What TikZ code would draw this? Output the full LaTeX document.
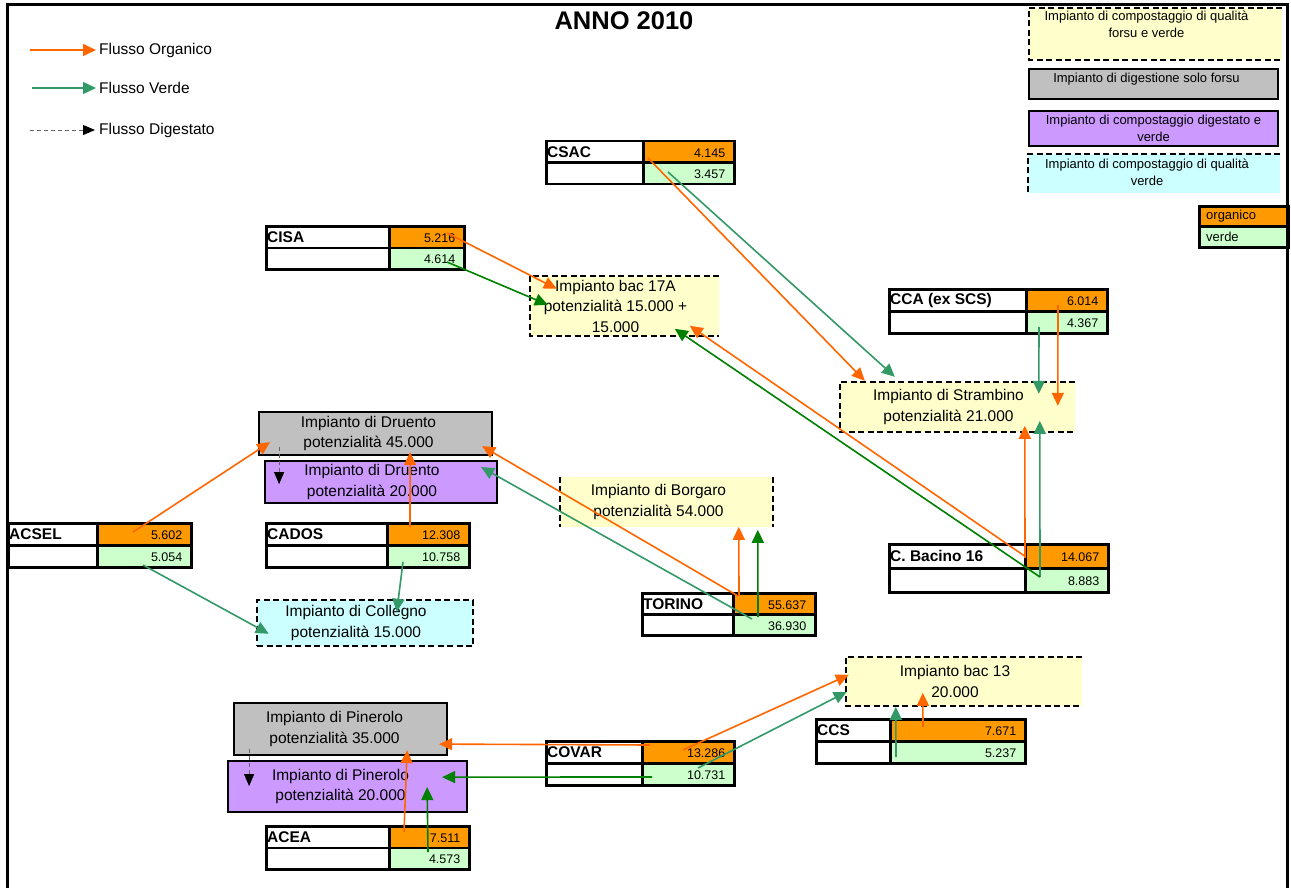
\documentclass[tikz,border=0pt]{standalone}
\usepackage{fontspec}
\setmainfont{Liberation Sans}
\usetikzlibrary{arrows.meta,calc}
\definecolor{orline}{HTML}{FF6600}
\definecolor{vline}{HTML}{339966}
\definecolor{dgreen}{HTML}{008000}
\definecolor{orfill}{HTML}{FF9900}
\definecolor{vfill}{HTML}{CCFFCC}
\definecolor{yfill}{HTML}{FFFFCC}
\definecolor{gfill}{HTML}{C0C0C0}
\definecolor{pfill}{HTML}{CC99FF}
\definecolor{cfill}{HTML}{CCFFFF}
\tikzset{
  cellbase/.style={draw=black, line width=2.5pt, inner sep=0pt},
  namecell/.style={cellbase, fill=white},
  orgcell/.style={cellbase, fill=orfill},
  vercell/.style={cellbase, fill=vfill},
  tname/.style={inner sep=0pt, font=\bfseries\fontsize{15.5}{18}\selectfont},
  tnum/.style={inner sep=0pt, font=\fontsize{12.5}{15}\selectfont},
  plantbase/.style={inner sep=0pt},
  graybox/.style={plantbase, fill=gfill, draw=black, line width=1.8pt},
  purplebox/.style={plantbase, fill=pfill, draw=black, line width=1.8pt},
  yellowbox/.style={plantbase, fill=yfill},
  cyanbox/.style={plantbase, fill=cfill, draw=black, line width=2.5pt, dash pattern=on 6pt off 3.5pt},
  planttext/.style={inner sep=0pt, align=center, font=\fontsize{15.5}{20.5}\selectfont},
  dashedge/.style={line width=2.5pt, dash pattern=on 6pt off 3.5pt},
  legtxt/.style={inner sep=0pt, font=\fontsize{15.5}{18}\selectfont},
  legsmall/.style={inner sep=0pt, align=center, font=\fontsize{13}{16.5}\selectfont},
  orarrow/.style={draw=orline, line width=1.6pt, -{Triangle[length=13pt,width=12pt]}},
  varrow/.style={draw=vline, line width=1.6pt, -{Triangle[length=13pt,width=12pt]}},
  dgarrow/.style={draw=dgreen, line width=1.6pt, -{Triangle[length=13pt,width=12pt]}},
  digarrow/.style={draw=black!60, line width=0.8pt, dash pattern=on 4pt off 3pt, -{Triangle[length=12pt,width=10pt,black]}},
}
\newcommand\mytab[9]{%
  \node[namecell, minimum width={(#3-#2)*1pt}, minimum height={#6*1pt}, anchor=north west] (#1-n) at (#2,#5) {};
  \node[namecell, minimum width={(#3-#2)*1pt}, minimum height={#6*1pt}, anchor=north west] (#1-b) at (#2,{#5+#6}) {};
  \node[orgcell, minimum width={(#4-#3)*1pt}, minimum height={#6*1pt}, anchor=north west] (#1-o) at (#3,#5) {};
  \node[vercell, minimum width={(#4-#3)*1pt}, minimum height={#6*1pt}, anchor=north west] (#1-v) at (#3,{#5+#6}) {};
  \node[tname, anchor=west] (#1-l) at ([xshift=2pt]#1-n.west) {#7};
  \node[tnum, anchor=east] (#1-x) at ([shift={(-10,1)}]#1-o.east) {#8};
  \node[tnum, anchor=east] (#1-y) at ([shift={(-10,1)}]#1-v.east) {#9};
}
\newcommand\plantbox[8]{%
  \node[#6, minimum width={(#4-#2)*1pt}, minimum height={(#5-#3)*1pt}] (#1) at ({(#2+#4)/2},{(#3+#5)/2}) {};
  \node[planttext] (#1-t) at ([xshift=#7pt]#1.center) {#8};
}
\begin{document}
\begin{tikzpicture}[x=1pt,y=-1pt]
\useasboundingbox (0,0) rectangle (1291,888);
\fill[white] (0,0) rectangle (1291,888);

% title
\node[inner sep=0pt, font=\bfseries\fontsize{25.5}{30}\selectfont] (title) at (624,21) {ANNO 2010};

% left legend
\coordinate (lgo) at (30,50);
\node[legtxt, anchor=west] (lgot) at (99,50) {Flusso Organico};
\draw[orarrow] (lgo) -- ([xshift=-3pt]lgot.west);
\coordinate (lgv) at (32,88);
\node[legtxt, anchor=west] (lgvt) at (99,88) {Flusso Verde};
\draw[varrow] (lgv) -- ([xshift=-3pt]lgvt.west);
\coordinate (lgd) at (30,130);
\node[legtxt, anchor=west] (lgdt) at (99,130) {Flusso Digestato};
\draw[digarrow] (lgd) -- ([xshift=-4pt]lgdt.west);

% right legend
\node[plantbase, fill=yfill, minimum width=253pt, minimum height=52pt] (lg1) at (1155.5,34) {};
\draw[dashedge] (lg1.north east) -- (lg1.north west) -- (lg1.south west) -- (lg1.south east);
\node[legsmall, anchor=north] (lg1t) at ([shift={(-9,3)}]lg1.north) {Impianto di compostaggio di qualità\\forsu e verde};
\node[plantbase, fill=gfill, draw=black, line width=1.8pt, minimum width=249pt, minimum height=30pt] (lg2) at (1153.5,84) {};
\node[legsmall] (lg2t) at ([shift={(-7,-5)}]lg2.center) {Impianto di digestione solo forsu};
\node[plantbase, fill=pfill, draw=black, line width=1.8pt, minimum width=249pt, minimum height=35pt] (lg3) at (1153.5,128.5) {};
\node[legsmall] (lg3t) at (lg3.center) {Impianto di compostaggio digestato e\\verde};
\node[plantbase, fill=cfill, minimum width=252pt, minimum height=39pt] (lg4) at (1154,173.5) {};
\draw[dashedge] (lg4.north east) -- (lg4.north west) -- (lg4.south west);
\node[legsmall] (lg4t) at ([shift={(-7,-1)}]lg4.center) {Impianto di compostaggio di qualità\\verde};
\node[orgcell, minimum width=89pt, minimum height=20pt, anchor=north west] (lgorg) at (1198,205) {};
\node[vercell, minimum width=89pt, minimum height=21pt, anchor=north west] (lgver) at (1198,225) {};
\node[legsmall, anchor=west] (lgorgt) at ([xshift=8pt]lgorg.west) {organico};
\node[legsmall, anchor=west] (lgvert) at ([xshift=8pt]lgver.west) {verde};

% tables
\mytab{csac}{545}{642}{733}{140}{21.5}{CSAC}{4.145}{3.457}
\mytab{cisa}{265}{388}{463}{225}{21.5}{CISA}{5.216}{4.614}
\mytab{cca}{888}{1025}{1106}{288}{22}{CCA (ex SCS)}{6.014}{4.367}
\mytab{acsel}{7}{96}{190}{522}{22}{ACSEL}{5.602}{5.054}
\mytab{cados}{265}{386}{468}{522}{22}{CADOS}{12.308}{10.758}
\mytab{torino}{641}{732}{814}{592}{21}{TORINO}{55.637}{36.930}
\mytab{bac16}{888}{1024}{1107}{543}{24}{C. Bacino 16}{14.067}{8.883}
\mytab{ccs}{815}{889}{1024}{718}{22}{CCS}{7.671}{5.237}
\mytab{covar}{545}{641}{733}{740}{22}{COVAR}{13.286}{10.731}
\mytab{acea}{265}{388}{468}{825}{21.5}{ACEA}{7.511}{4.573}

% plants
\plantbox{bac17a}{530}{276}{719}{336}{yellowbox}{-9}{Impianto bac 17A\\potenzialità 15.000 +\\15.000}
\draw[dashedge] (bac17a.north east) -- (bac17a.north west) -- (bac17a.south west) -- (bac17a.south east);
\plantbox{stram}{840}{382}{1075}{432}{yellowbox}{-9}{Impianto di Strambino\\potenzialità 21.000}
\draw[dashedge] (stram.north east) -- (stram.north west) -- (stram.south west) -- (stram.south east);
\plantbox{drug}{259}{412}{492}{455}{graybox}{-7}{Impianto di Druento\\potenzialità 45.000}
\plantbox{drup}{265}{461}{497}{503}{purplebox}{-9}{Impianto di Druento\\potenzialità 20.000}
\plantbox{coll}{257}{600}{473}{646}{cyanbox}{-9}{Impianto di Collegno\\potenzialità 15.000}
\plantbox{borg}{560}{477}{773}{527}{yellowbox}{-8}{Impianto di Borgaro\\potenzialità 54.000}
\draw[dashedge] (borg.north west) -- (borg.south west);
\draw[dashedge] (borg.north east) -- (borg.south east);
\plantbox{bac13}{846}{657}{1082}{706}{yellowbox}{-9}{Impianto bac 13\\20.000}
\draw[dashedge] (bac13.north east) -- (bac13.north west) -- (bac13.south west) -- (bac13.south east);
\plantbox{ping}{234}{703}{447}{755}{graybox}{-6}{Impianto di Pinerolo\\potenzialità 35.000}
\plantbox{pinp}{228}{761}{467}{812}{purplebox}{-7}{Impianto di Pinerolo\\potenzialità 20.000}

% flows
\draw[orarrow] ([shift={(6,18)}]csac-o.north west) -- ([shift={(25,-1)}]stram.north west);
\draw[varrow] ([shift={(26,10.5)}]csac-v.north west) -- ([shift={(55,-5)}]stram.north west);
\draw[orarrow] ([shift={(59,8)}]cisa-o.north west) -- ([shift={(27,13)}]bac17a.north west);
\draw[dgarrow] ([shift={(59,15.5)}]cisa-v.north west) -- ([shift={(18,29)}]bac17a.north west);
\draw[orarrow] ([shift={(33,17)}]cca-o.north west) -- ([shift={(218,24)}]stram.north west);
\draw[varrow] ([shift={(14,17)}]cca-v.north west) -- ([shift={(199,12)}]stram.north west);
\draw[orarrow] ([shift={(1,15)}]bac16-o.north west) -- ([shift={(185,44)}]stram.north west);
\draw[varrow] ([shift={(16,10)}]bac16-v.north west) -- ([shift={(200,39)}]stram.north west);
\draw[orarrow] ([shift={(2,14)}]bac16-o.north west) -- ([shift={(160,50)}]bac17a.north west);
\draw[dgarrow] ([shift={(16,10)}]bac16-v.north west) -- ([shift={(145,53)}]bac17a.north west);
\draw[orarrow] ([shift={(37,10)}]acsel-o.north west) -- ([shift={(12,31)}]drug.north west);
\draw[varrow] ([shift={(47,21)}]acsel-v.north west) -- ([shift={(13,35)}]coll.north west);
\draw[orarrow] ([shift={(24,5)}]cados-o.north west) -- ([shift={(152,41)}]drug.north west);
\draw[varrow] ([shift={(17,18)}]cados-v.north west) -- ([shift={(141,13)}]coll.north west);
\draw[orarrow] ([shift={(6,4)}]torino-o.north west) -- ([shift={(224,35)}]drug.north west);
\draw[varrow] ([shift={(20,6)}]torino-v.north west) -- ([shift={(217,7)}]drup.north west);
\draw[orarrow] ([shift={(7,4)}]torino-o.north west) -- ([shift={(179,50)}]borg.north west);
\draw[dgarrow] ([shift={(26,4)}]torino-v.north west) -- ([shift={(198,53)}]borg.north west);
\draw[orarrow] ([shift={(9,5)}]covar-o.north west) -- ([shift={(206,42)}]ping.north west);
\draw[dgarrow] ([shift={(11,15)}]covar-v.north west) -- ([shift={(215,17)}]pinp.north west);
\draw[orarrow] ([shift={(42,10)}]covar-o.north west) -- ([shift={(3,18)}]bac13.north west);
\draw[varrow] ([shift={(57,6)}]covar-v.north west) -- ([shift={(1,35)}]bac13.north west);
\draw[orarrow] ([shift={(34,9)}]ccs-o.north west) -- ([shift={(77,36)}]bac13.north west);
\draw[varrow] ([shift={(7,17)}]ccs-v.north west) -- ([shift={(50,50)}]bac13.north west);
\draw[orarrow] ([shift={(16,7)}]acea-o.north west) -- ([shift={(174,48)}]ping.north west);
\draw[dgarrow] ([shift={(40,5.5)}]acea-v.north west) -- ([shift={(200,27)}]pinp.north west);
\draw[digarrow] ([shift={(21,36)}]drug.north west) -- ([shift={(15,24)}]drup.north west);
\draw[digarrow] ([shift={(16,47)}]ping.north west) -- ([shift={(22,26)}]pinp.north west);

% frame
\draw[line width=3pt] (7,888) -- (7,5) -- (1287,5) -- (1287,888);
\end{tikzpicture}
\end{document}
